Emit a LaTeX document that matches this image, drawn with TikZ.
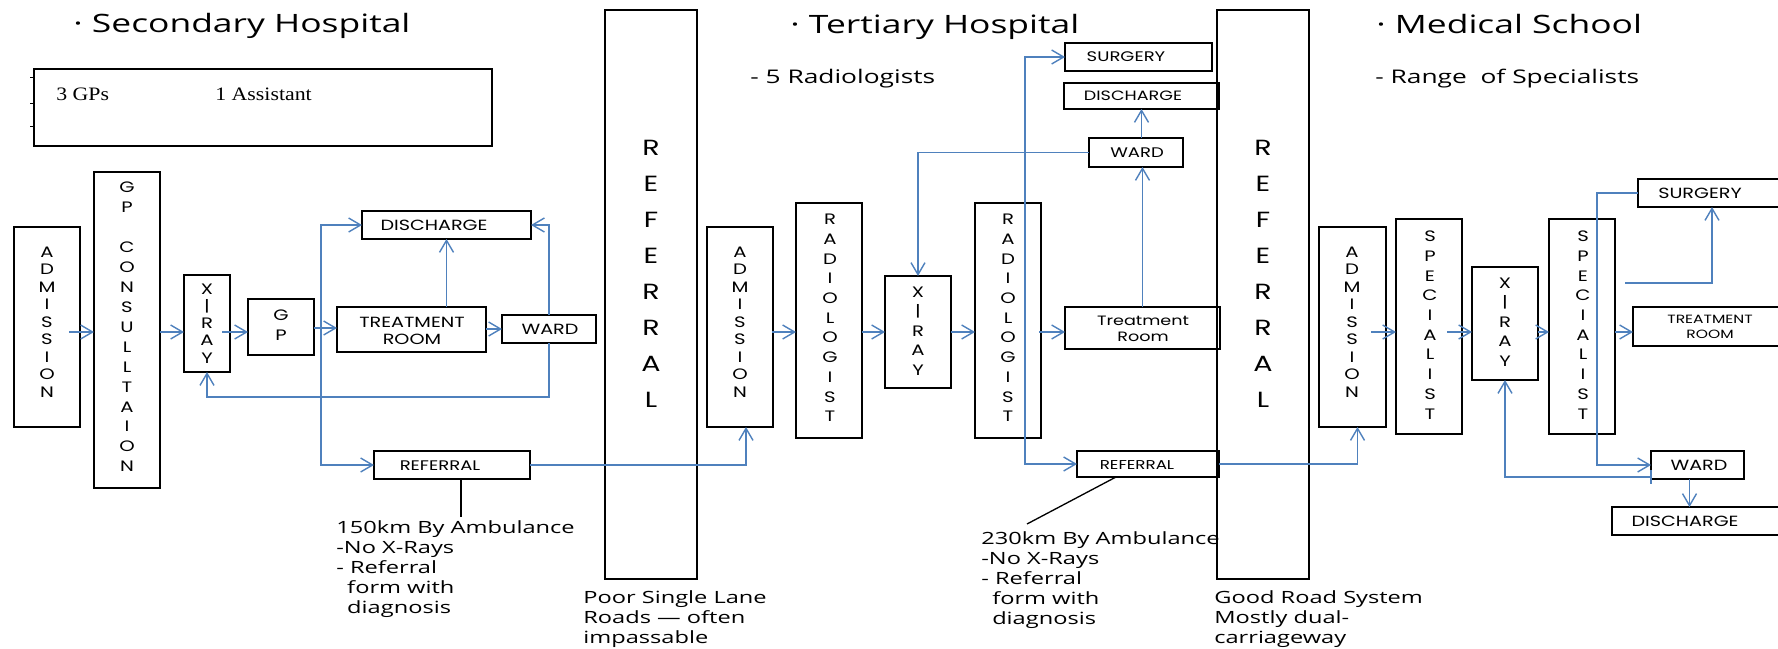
\documentclass[tikz,border=0pt]{standalone}
\usepackage{fontspec}
\usetikzlibrary{arrows.meta,calc}
\newfontfamily\fLab[FakeStretch=1.3]{Poppins}
\newfontfamily\fTxt[FakeStretch=1.4]{Open Sans}
\newfontfamily\fSrf[FakeStretch=1.15]{Liberation Serif}
\definecolor{cblue}{RGB}{79,129,189}
\newcommand\bx[5]{\node[bx,minimum width={(#4-#2)*0.02cm},minimum height={(#5-#3)*0.02cm}] (#1) at ({(#2+#4)/2},{(#3+#5)/2}) {};}
\begin{document}
\begin{tikzpicture}[x=0.02cm,y=-0.02cm,
  bx/.style={draw=black,line width=1.1pt,inner sep=0pt,outer sep=0pt},
  lb/.style 2 args={inner sep=0pt,align=center,font=\fLab\fontsize{#1}{#2}\selectfont},
  vs/.style={inner sep=0pt,align=center,font=\fLab\fontsize{8.6}{#1}\selectfont},
  big/.style={inner sep=0pt,align=center,font=\fLab\fontsize{12.5}{20.47}\selectfont},
  tt/.style={inner sep=0pt,anchor=base west,font=\fTxt\fontsize{14.4}{17}\selectfont},
  sub/.style={inner sep=0pt,anchor=base west,font=\fTxt\fontsize{10.7}{12.5}\selectfont},
  note/.style={inner sep=0pt,align=left,anchor=north west,font=\fTxt\fontsize{9.6}{11.48}\selectfont},
  srf/.style={inner sep=0pt,anchor=base west,font=\fSrf\fontsize{10.8}{13}\selectfont},
  conn/.style={draw=cblue,line width=0.8pt},
  arr/.style={conn,-{Straight Barb[length=2.4mm,width=2.8mm]}},
  darr/.style={conn,{Straight Barb[length=2.4mm,width=2.8mm]}-{Straight Barb[length=2.4mm,width=2.8mm]}},
  lead/.style={draw=black,line width=1.1pt},
]
\path[use as bounding box,fill=white] (0,0) rectangle (1778,649);
\clip (0,0) rectangle (1778,649);

% ---------- boxes ----------
\bx{info}{34}{69}{492}{146}
\bx{adm1}{14}{227}{80}{427}
\bx{gpc}{94}{172}{160}{488}
\bx{xr1}{184}{275}{230}{372}
\bx{gp}{248}{299}{314}{355}
\bx{tr1}{337}{307}{486}{352}
\bx{wd1}{502}{315}{596}{343}
\bx{dc1}{362}{211}{531}{239}
\bx{ref1}{374}{451}{530}{479}
\bx{big1}{605}{10}{697}{579}
\bx{adm2}{707}{227}{773}{427}
\bx{rad1}{796}{203}{862}{438}
\bx{xr2}{885}{276}{951}{388}
\bx{rad2}{975}{203}{1041}{438}
\bx{tr2}{1065}{307}{1220}{349}
\bx{ref2}{1077}{451}{1219}{477}
\bx{wd2}{1089}{138}{1183}{167}
\bx{dc2}{1064}{83}{1219}{109}
\bx{sg2}{1065}{43}{1212}{71}
\bx{big2}{1217}{10}{1309}{579}
\bx{adm3}{1319}{227}{1386}{427}
\bx{sp1}{1396}{219}{1462}{434}
\bx{xr3}{1472}{267}{1538}{380}
\bx{sp2}{1549}{219}{1615}{434}
\bx{sg3}{1638}{179}{1800}{207}
\bx{tr3}{1633}{307}{1800}{346}
\bx{wd3}{1651}{451}{1744}{479}
\bx{dc3}{1612}{507}{1800}{535}

\foreach \yy in {77,103,126} \draw[line width=0.5pt] (30,\yy) -- (34,\yy);

% ---------- texts ----------
\node[tt] (h1) at (73,32) {· Secondary Hospital};
\node[tt] (h2) at (790,33) {· Tertiary Hospital};
\node[tt] (h3) at (1376,33) {· Medical School};
\node[sub] (s2) at (750,83) {- 5 Radiologists};
\node[sub] (s3) at (1375,83) {- Range\ \ of Specialists};
\node[srf] (g1) at (56,100) {3 GPs};
\node[srf] (g2) at (215,100) {1 Assistant};

\node[vs=9.98pt] (adm1t) at (47,322) {A\\D\\M\\I\\S\\S\\I\\O\\N};
\node[vs=11.34pt] (gpct) at (127,327) {G\\P\\[11.34pt]C\\O\\N\\S\\U\\L\\L\\T\\A\\I\\O\\N};
\node[vs=9.8pt] (xr1t) at (207,323.5) {X\\|\\R\\A\\Y};
\node[vs=11.34pt] (gpt) at (281,325) {G\\P};
\node[lb={8.4}{9.64}] (tr1t) at (412,330.5) {TREATMENT\\ROOM};
\node[lb={8.4}{9.8}] (wd1t) at (550,329) {WARD};
\node[lb={8.4}{9.8}] (dc1t) at (434,225) {DISCHARGE};
\node[lb={7.9}{9.4}] (ref1t) at (440,466) {REFERRAL};
\node[big] (big1t) at (651,273.5) {R\\E\\F\\E\\R\\R\\A\\L};

\node[vs=9.98pt] (adm2t) at (740,322) {A\\D\\M\\I\\S\\S\\I\\O\\N};
\node[vs=11.22pt] (rad1t) at (830,318) {R\\A\\D\\I\\O\\L\\O\\G\\I\\S\\T};
\node[vs=11.05pt] (xr2t) at (918,331) {X\\|\\R\\A\\Y};
\node[vs=11.22pt] (rad2t) at (1008,318) {R\\A\\D\\I\\O\\L\\O\\G\\I\\S\\T};
\node[lb={7.7}{9.07}] (tr2t) at (1143,329) {Treatment\\Room};
\node[lb={7.9}{9.4}] (wd2t) at (1137,153) {WARD};
\node[lb={7.7}{9.2}] (dc2t) at (1133,96) {DISCHARGE};
\node[lb={7.9}{9.4}] (sg2t) at (1126,57) {SURGERY};
\node[lb={7.3}{8.6}] (ref2t) at (1137,465) {REFERRAL};
\node[big] (big2t) at (1263,273.5) {R\\E\\F\\E\\R\\R\\A\\L};

\node[vs=9.98pt] (adm3t) at (1352,322) {A\\D\\M\\I\\S\\S\\I\\O\\N};
\node[vs=11.22pt] (sp1t) at (1430,325) {S\\P\\E\\C\\I\\A\\L\\I\\S\\T};
\node[vs=11.05pt] (xr3t) at (1505,322) {X\\|\\R\\A\\Y};
\node[vs=11.22pt] (sp2t) at (1583,325) {S\\P\\E\\C\\I\\A\\L\\I\\S\\T};
\node[lb={8.4}{9.8}] (sg3t) at (1700,193) {SURGERY};
\node[lb={6.8}{8.5}] (tr3t) at (1710,326.5) {TREATMENT\\ROOM};
\node[lb={8.4}{9.8}] (wd3t) at (1699,465) {WARD};
\node[lb={8.4}{9.8}] (dc3t) at (1685,521) {DISCHARGE};

\node[note] (n1) at (336,520) {150km By Ambulance\\-No X-Rays\\- Referral\\\hspace*{6.2pt}form with\\\hspace*{6.2pt}diagnosis};
\node[note] (n2) at (981,531) {230km By Ambulance\\-No X-Rays\\- Referral\\\hspace*{6.2pt}form with\\\hspace*{6.2pt}diagnosis};
\node[note] (n3) at (583,590) {Poor Single Lane\\Roads — often\\impassable};
\node[note] (n4) at (1214,590) {Good Road System\\Mostly dual-\\carriageway};

% ---------- helper coordinates ----------
\coordinate (L) at (0,332);
\coordinate (L2) at (0,328);
\coordinate (Lb) at (0,397);
\coordinate (br1) at (321,300);
\coordinate (br2) at (1025,300);
\coordinate (br3) at (1597,300);
\coordinate (a1) at (461,517);
\coordinate (a2s) at (1116,477);
\coordinate (a2) at (1027,524);
\coordinate (s2o) at (1625,283);

% ---------- connectors: secondary ----------
\draw[arr] ($(adm1.east|-L)+(-11,0)$) -- (gpc.west|-L);
\draw[arr] (gpc.east|-L) -- (xr1.west|-L);
\draw[arr] ($(xr1.east|-L)+(-8,0)$) -- (gp.west|-L);
\draw[arr] (gp.east|-L2) -- (tr1.west|-L2);
\draw[arr] (tr1.east|-wd1.west) -- (wd1.west);
\draw[arr] (tr1.north-|dc1.south) -- (dc1.south);
\draw[arr] (wd1.north) |- (dc1.east);
\draw[arr] (wd1.south) -- (wd1.south|-Lb) -| (xr1.south);
\draw[darr] (dc1.west) -| (br1) |- (ref1.west);
\draw[arr] (ref1.east) -| ($(adm2.south)+(6,0)$);
\draw[lead] (ref1.south-|a1) -- (a1);

% ---------- connectors: tertiary ----------
\draw[arr] ($(adm2.east|-L)+(-1,0)$) -- (rad1.west|-L);
\draw[arr] (rad1.east|-L) -- (xr2.west|-L);
\draw[arr] (xr2.east|-L) -- (rad2.west|-L);
\draw[arr] ($(rad2.east|-L)+(-2,0)$) -- (tr2.west|-L);
\draw[arr] (tr2.north) -- (tr2.north|-wd2.south);
\draw[arr] (dc2.south|-wd2.north) -- (dc2.south);
\draw[arr] (wd2.west) -| (xr2.north);
\draw[darr] (sg2.west) -| (br2) |- (ref2.west);
\draw[arr] (ref2.east) -| ($(adm3.south)+(5,0)$);
\draw[lead,line width=0.75pt] (ref2.south-|a2s) -- (a2);

% ---------- connectors: medical school ----------
\draw[arr] ($(adm3.east|-L)+(-15,0)$) -- (sp1.west|-L);
\draw[arr] ($(sp1.east|-L)+(-15,0)$) -- (xr3.west|-L);
\draw[arr] (xr3.east|-L) -- (sp2.west|-L);
\draw[arr] (sp2.east|-L) -- (tr3.west|-L);
\draw[arr] (s2o) -| ($(sg3.south)+(-7,0)$);
\draw[arr] (sg3.west) -| (br3) |- (wd3.west);
\draw[arr] ($(wd3.south west)+(0,-2)$) -| (xr3.south);
\draw[conn] ($(wd3.south west)+(0,-9)$) -- ($(wd3.south west)+(0,5)$);
\coordinate (w3b) at ($(wd3.south)+(-8,0)$);
\draw[arr] (w3b) -- (w3b|-dc3.north);
\end{tikzpicture}
\end{document}
